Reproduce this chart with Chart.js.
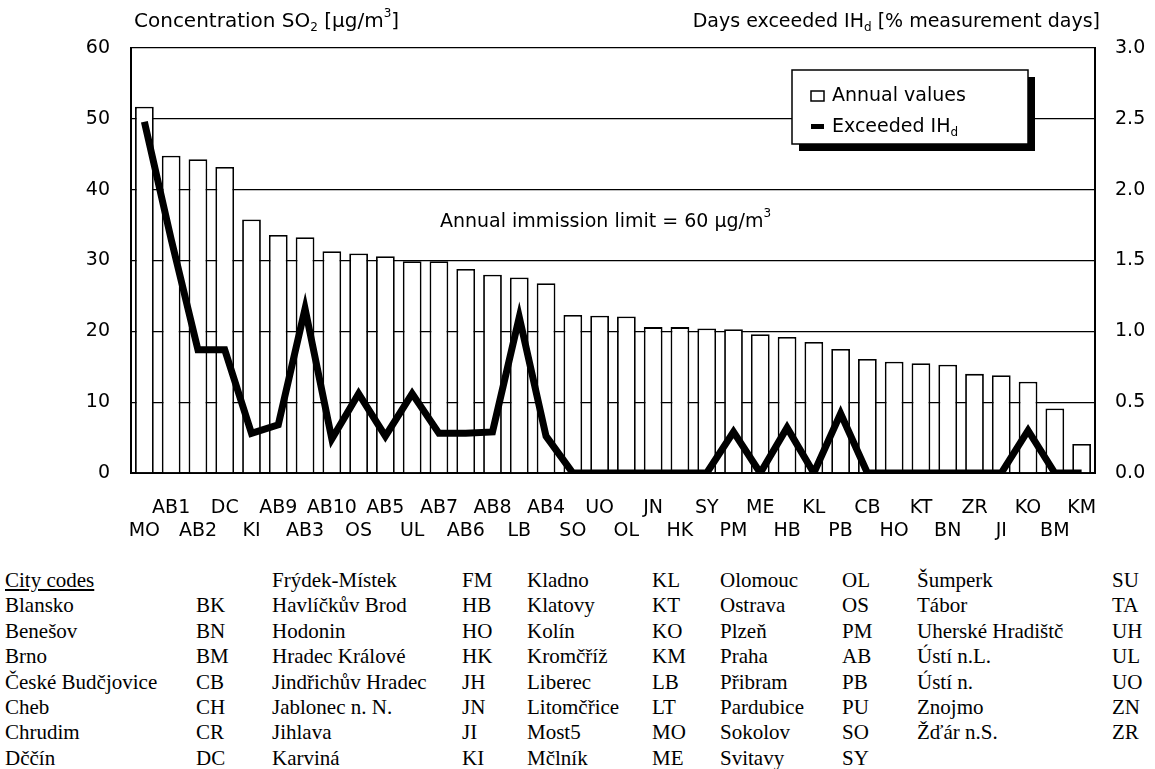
<!DOCTYPE html>
<html>
<head>
<meta charset="utf-8">
<script src="https://cdn.jsdelivr.net/npm/chart.js@4/dist/chart.umd.min.js"></script>
<style>
    body { margin: 0; background: #fff; }
    #wrap { position: relative; width: 1155px; height: 769px; }
    #chart { position: absolute; left: 0; top: 0; }
    .cell { position: absolute; font-family: 'Liberation Serif', 'Times New Roman', serif; font-size: 21px; line-height: 22px; color: #000; white-space: nowrap; }
    .head { text-decoration: underline; }
</style>
</head>
<body>
<div id="wrap">
    <canvas id="chart" width="1155" height="560"></canvas>
</div>
<script>
// categories in plotted order
const cityCodes = ['MO', 'AB1', 'AB2', 'DC', 'KI', 'AB9', 'AB3', 'AB10', 'OS', 'AB5', 'UL', 'AB7',
    'AB6', 'AB8', 'LB', 'AB4', 'SO', 'UO', 'OL', 'JN', 'HK', 'SY', 'PM', 'ME',
    'HB', 'KL', 'PB', 'CB', 'HO', 'KT', 'BN', 'ZR', 'JI', 'KO', 'BM', 'KM'];

// annual SO2 concentration [ug/m3]
const annualValues = [51.7, 44.8, 44.3, 43.2, 35.8, 33.6, 33.3, 31.3, 31.0, 30.6, 29.9, 29.9,
    28.8, 28.0, 27.6, 26.8, 22.3, 22.2, 22.1, 20.6, 20.6, 20.4, 20.3, 19.6,
    19.2, 18.5, 17.5, 16.1, 15.7, 15.5, 15.3, 14.0, 13.8, 12.9, 9.1, 4.1];

// days exceeded IHd [% measurement days]
const exceededDays = [2.48, 1.65, 0.87, 0.87, 0.28, 0.34, 1.16, 0.24, 0.56, 0.26, 0.56, 0.28,
    0.28, 0.29, 1.10, 0.26, 0, 0, 0, 0, 0, 0, 0.29, 0,
    0.32, 0, 0.42, 0, 0, 0, 0, 0, 0, 0.30, 0, 0];

const leftTicks = [0, 10, 20, 30, 40, 50, 60];
const rightTicks = [0, 0.5, 1.0, 1.5, 2.0, 2.5, 3.0];

// city code table below the chart
const tableColumns = [
    [['Blansko', 'BK'], ['Benešov', 'BN'], ['Brno', 'BM'], ['České Budčjovice', 'CB'], ['Cheb', 'CH'], ['Chrudim', 'CR'], ['Dččín', 'DC']],
    [['Frýdek-Místek', 'FM'], ['Havlíčkův Brod', 'HB'], ['Hodonin', 'HO'], ['Hradec Králové', 'HK'], ['Jindřichův Hradec', 'JH'], ['Jablonec n. N.', 'JN'], ['Jihlava', 'JI'], ['Karviná', 'KI']],
    [['Kladno', 'KL'], ['Klatovy', 'KT'], ['Kolín', 'KO'], ['Kromčříž', 'KM'], ['Liberec', 'LB'], ['Litomčřice', 'LT'], ['Most5', 'MO'], ['Mčlník', 'ME']],
    [['Olomouc', 'OL'], ['Ostrava', 'OS'], ['Plzeň', 'PM'], ['Praha', 'AB'], ['Přibram', 'PB'], ['Pardubice', 'PU'], ['Sokolov', 'SO'], ['Svitavy', 'SY']],
    [['Šumperk', 'SU'], ['Tábor', 'TA'], ['Uherské Hradištč', 'UH'], ['Ústí n.L.', 'UL'], ['Ústí n.', 'UO'], ['Znojmo', 'ZN'], ['Žďár n.S.', 'ZR']]
];

const wrap = document.getElementById('wrap');
const colX = [[5, 196], [272, 462], [527, 652], [720, 842], [917, 1112]];
const rowY = (i) => 569 + i * 25.4;

function addCell(text, x, y, cls) {
    const d = document.createElement('div');
    d.className = 'cell' + (cls ? ' ' + cls : '');
    d.style.left = x + 'px';
    d.style.top = y + 'px';
    d.textContent = text;
    wrap.appendChild(d);
}

addCell('City codes', colX[0][0], rowY(0), 'head');
tableColumns.forEach((col, c) => {
    const start = c === 0 ? 1 : 0;
    col.forEach((pair, r) => {
        addCell(pair[0], colX[c][0], rowY(r + start));
        addCell(pair[1], colX[c][1], rowY(r + start));
    });
});

const FONT = "'DejaVu Sans', 'Liberation Sans', Arial, sans-serif";

// draws text with sub/superscript pieces
function drawRich(ctx, parts, x, y, align, size) {
    const small = Math.round(size * 0.62);
    let width = 0;
    parts.forEach((p) => {
        ctx.font = (p.sub || p.sup ? small : size) + 'px ' + FONT;
        width += ctx.measureText(p.t).width;
    });
    let cx = align === 'right' ? x - width : x;
    ctx.textBaseline = 'middle';
    ctx.textAlign = 'left';
    ctx.fillStyle = '#000';
    parts.forEach((p) => {
        ctx.font = (p.sub || p.sup ? small : size) + 'px ' + FONT;
        let dy = 0;
        if (p.sub) dy = size * 0.3;
        if (p.sup) dy = -size * 0.42;
        ctx.fillText(p.t, cx, y + dy);
        cx += ctx.measureText(p.t).width;
    });
}

const textPlugin = {
    id: 'texts',
    afterDraw(chart) {
        const ctx = chart.ctx;
        ctx.save();
        drawRich(ctx, [{ t: 'Concentration SO' }, { t: '2', sub: true }, { t: ' [µg/m' }, { t: '3', sup: true }, { t: ']' }], 134, 22, 'left', 20);
        drawRich(ctx, [{ t: 'Days exceeded IH' }, { t: 'd', sub: true }, { t: ' [% measurement days]' }], 1100, 22, 'right', 19);
        drawRich(ctx, [{ t: 'Annual immission limit = 60 µg/m' }, { t: '3', sup: true }], 440, 222, 'left', 19);

        // legend box with shadow
        const lx = 792, ly = 70, lw = 236, lh = 74;
        ctx.fillStyle = '#000';
        ctx.fillRect(lx + 7, ly + 7, lw, lh);
        ctx.fillStyle = '#fff';
        ctx.fillRect(lx, ly, lw, lh);
        ctx.strokeStyle = '#000';
        ctx.lineWidth = 1.5;
        ctx.strokeRect(lx, ly, lw, lh);
        ctx.strokeRect(lx + 19, ly + 21, 13, 10);
        ctx.fillStyle = '#000';
        ctx.fillRect(lx + 19, ly + 54, 13, 5);
        drawRich(ctx, [{ t: 'Annual values' }], lx + 40, ly + 26, 'left', 19);
        drawRich(ctx, [{ t: 'Exceeded IH' }, { t: 'd', sub: true }], lx + 40, ly + 57, 'left', 19);
        ctx.restore();
    }
};

new Chart(document.getElementById('chart').getContext('2d'), {
    type: 'bar',
    data: {
        labels: cityCodes,
        datasets: [{
            type: 'line',
            label: 'Exceeded IHd',
            data: exceededDays,
            yAxisID: 'y1',
            borderColor: '#000',
            borderWidth: 7,
            pointRadius: 0,
            tension: 0,
            fill: false,
            order: 0
        }, {
            type: 'bar',
            label: 'Annual values',
            data: annualValues,
            yAxisID: 'y',
            backgroundColor: '#fff',
            borderColor: '#000',
            borderWidth: 1.8,
            barPercentage: 0.7,
            categoryPercentage: 1,
            order: 1
        }]
    },
    options: {
        responsive: false,
        devicePixelRatio: 1,
        animation: false,
        layout: { padding: { top: 48, left: 0, right: 0, bottom: 0 } },
        plugins: {
            legend: { display: false },
            tooltip: { enabled: false }
        },
        scales: {
            x: {
                grid: { display: false },
                border: { color: '#000', width: 2 },
                ticks: {
                    autoSkip: false,
                    maxRotation: 0,
                    padding: 16,
                    color: '#000',
                    font: { family: FONT, size: 19, lineHeight: 1.21 },
                    callback: function (value, index) {
                        const label = cityCodes[index];
                        return index % 2 === 0 ? ['', label] : [label, ''];
                    }
                },
                afterFit: (scale) => { scale.height = 87; }
            },
            y: {
                position: 'left',
                min: 0,
                max: 60,
                afterBuildTicks: (scale) => { scale.ticks = leftTicks.map((v) => ({ value: v })); },
                grid: { color: '#000', lineWidth: 1.3, drawTicks: false },
                border: { color: '#000', width: 2 },
                ticks: {
                    padding: 21,
                    color: '#000',
                    font: { family: FONT, size: 19 }
                },
                afterFit: (scale) => { scale.width = 131; }
            },
            y1: {
                position: 'right',
                min: 0,
                max: 3,
                afterBuildTicks: (scale) => { scale.ticks = rightTicks.map((v) => ({ value: v })); },
                grid: { drawOnChartArea: false, drawTicks: false },
                border: { color: '#000', width: 2 },
                ticks: {
                    padding: 20,
                    color: '#000',
                    font: { family: FONT, size: 19 },
                    callback: (v) => Number(v).toFixed(1)
                },
                afterFit: (scale) => { scale.width = 60; }
            }
        }
    },
    plugins: [textPlugin]
});
</script>
</body>
</html>
